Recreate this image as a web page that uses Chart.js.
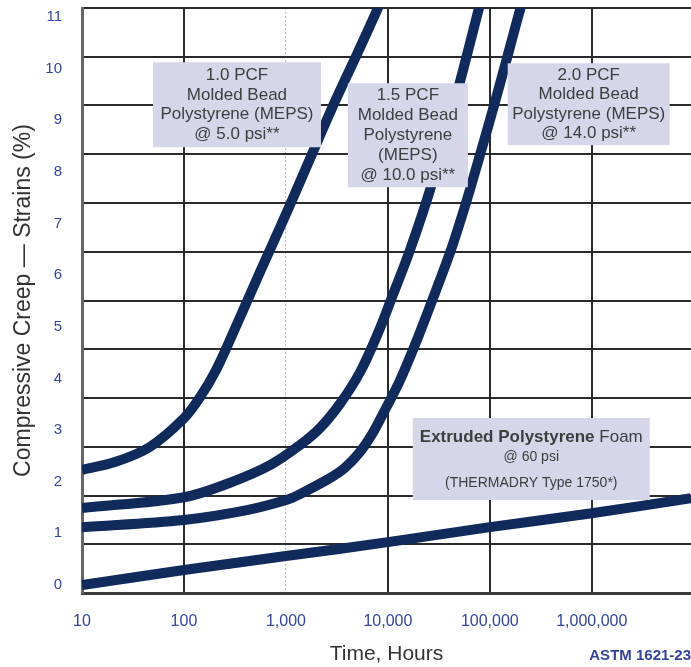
<!DOCTYPE html>
<html><head><meta charset="utf-8">
<script src="https://cdn.jsdelivr.net/npm/chart.js@4/dist/chart.umd.min.js"></script>
<style>html,body{margin:0;padding:0;background:#fff}#c{display:block}</style>
</head><body>
<canvas id="c" width="691" height="667"></canvas>
<script>
// ---- data ----
const tickHours = [10, 100, 1000, 10000, 100000, 1000000];
const tickStrain = [0, 1, 2, 3, 4, 5, 6, 7, 8, 9, 10, 11];

const hours10 = [10, 21, 46, 100, 144, 206, 303, 557, 1097, 2900, 5090, 7820, 8950];
const strain10 = [2.23, 2.38, 2.67, 3.23, 3.64, 4.16, 4.88, 6.06, 7.36, 9.28, 10.32, 11.13, 11.41];

const hours15 = [10, 100, 283, 698, 1374, 2160, 3390, 5330, 8000, 11200, 16500, 25900, 38000, 54600, 76600, 83800];
const strain15 = [1.49, 1.70, 1.98, 2.32, 2.71, 3.04, 3.51, 4.12, 4.88, 5.62, 6.49, 7.65, 8.81, 9.97, 11.10, 11.39];

const hours20 = [10, 100, 415, 1025, 1374, 2700, 3790, 5330, 6990, 9370, 13200, 21100, 29700, 41600, 58400, 80100, 107000, 144000, 189000, 207000];
const strain20 = [1.12, 1.26, 1.45, 1.65, 1.76, 2.07, 2.27, 2.58, 2.92, 3.39, 3.97, 4.94, 5.71, 6.49, 7.40, 8.33, 9.20, 10.13, 11.00, 11.27];

const hoursXps = [10, 100, 1000, 10000, 100000, 1000000, 9400000];
const strainXps = [0, 0.29, 0.56, 0.83, 1.12, 1.39, 1.68];

const note10 = ['1.0 PCF', 'Molded Bead', 'Polystyrene (MEPS)', '@ 5.0 psi**'];
const note15 = ['1.5 PCF', 'Molded Bead', 'Polystyrene', '(MEPS)', '@ 10.0 psi**'];
const note20 = ['2.0 PCF', 'Molded Bead', 'Polystyrene (MEPS)', '@ 14.0 psi**'];
const noteXpsBold = 'Extruded Polystyrene ';
const noteXpsRest = ['Foam', '@ 60 psi', '(THERMADRY Type 1750*)'];

const xTitle = 'Time, Hours';
const yTitle = 'Compressive Creep — Strains (%)';
const sourceNote = 'ASTM 1621-23';

// ---- styles ----
const FONT = "'Liberation Sans', Arial, sans-serif";
const NAVY = '#102a5c';
const BLUE = '#34449a';
const GRID = '#2a2a2a';

const pts = (xs, ys) => xs.map((v, i) => ({x: v, y: ys[i]}));
const lineDs = (label, xs, ys) => ({
  label, data: pts(xs, ys), borderColor: NAVY, backgroundColor: NAVY,
  borderWidth: 10, pointRadius: 0, fill: false, tension: 0.35, clip: 0
});

const notes = [
  {x: 331, y: 9.30, w: 168, h: 85, step: 19.5, lines: note10},
  {x: 15700, y: 8.71, w: 120, h: 104, step: 20, lines: note15},
  {x: 933000, y: 9.31, w: 162, h: 82, step: 19.5, lines: note20},
];

const notesPlugin = {
  id: 'notes',
  afterDatasetsDraw(chart) {
    const {ctx, scales: {x, y}} = chart;
    ctx.save();
    ctx.textAlign = 'center';
    ctx.textBaseline = 'middle';
    for (const n of notes) {
      const cx = x.getPixelForValue(n.x), cy = y.getPixelForValue(n.y);
      ctx.fillStyle = '#d6d6ea';
      ctx.fillRect(cx - n.w / 2, cy - n.h / 2, n.w, n.h);
      ctx.fillStyle = '#3d3d3d';
      ctx.font = '17px ' + FONT;
      const k = n.lines.length;
      n.lines.forEach((t, i) => ctx.fillText(t, cx, cy + (i - (k - 1) / 2) * n.step));
    }
    // extruded note
    const cx = x.getPixelForValue(255000), cy = y.getPixelForValue(2.44);
    ctx.fillStyle = '#d6d6ea';
    ctx.fillRect(cx - 118.5, cy - 41, 237, 82);
    ctx.fillStyle = '#3d3d3d';
    ctx.font = 'bold 17px ' + FONT;
    const wb = ctx.measureText(noteXpsBold).width;
    ctx.font = '17px ' + FONT;
    const wr = ctx.measureText(noteXpsRest[0]).width;
    const x0 = cx - (wb + wr) / 2;
    ctx.textAlign = 'left';
    ctx.font = 'bold 17px ' + FONT;
    ctx.fillText(noteXpsBold, x0, cy - 22);
    ctx.font = '17px ' + FONT;
    ctx.fillText(noteXpsRest[0], x0 + wb, cy - 22);
    ctx.textAlign = 'center';
    ctx.font = '14px ' + FONT;
    ctx.fillText(noteXpsRest[1], cx, cy - 2);
    ctx.fillText(noteXpsRest[2], cx, cy + 24);
    ctx.restore();
  },
  afterDraw(chart) {
    const {ctx} = chart;
    ctx.save();
    ctx.font = 'bold 15px ' + FONT;
    ctx.fillStyle = BLUE;
    ctx.textAlign = 'right';
    ctx.textBaseline = 'middle';
    ctx.fillText(sourceNote, 691, 656);
    ctx.restore();
  }
};

const zeroPad = s => { s.paddingTop = 0; s.paddingBottom = 0; s.paddingLeft = 0; s.paddingRight = 0; };

new Chart(document.getElementById('c'), {
  type: 'line',
  data: {
    datasets: [
      lineDs('1.0 PCF MEPS @ 5.0 psi', hours10, strain10),
      lineDs('1.5 PCF MEPS @ 10.0 psi', hours15, strain15),
      lineDs('2.0 PCF MEPS @ 14.0 psi', hours20, strain20),
      lineDs('Extruded Polystyrene Foam @ 60 psi', hoursXps, strainXps),
    ]
  },
  options: {
    responsive: false,
    animation: false,
    layout: {padding: {top: 8, right: 0, left: 0, bottom: 0}},
    plugins: {legend: {display: false}, tooltip: {enabled: false}},
    scales: {
      x: {
        type: 'logarithmic', min: 10, max: 9400000,
        afterBuildTicks: s => { s.ticks = tickHours.map(v => ({value: v})); },
        afterFit: s => { s.height = 74; zeroPad(s); },
        ticks: {
          autoSkip: false, maxRotation: 0, padding: 19, color: BLUE,
          font: {family: FONT, size: 16},
          callback: v => Number(v).toLocaleString('en-US')
        },
        grid: {
          drawTicks: false,
          color: c => (c.tick && c.tick.value === 1000) ? '#bdbdbd' : (c.tick && c.tick.value === 10 ? '#666' : GRID),
          lineWidth: c => (c.tick && c.tick.value === 1000) ? 1 : (c.tick && c.tick.value === 10 ? 3 : 2)
        },
        border: {display: true, color: '#3a3a3a', width: 3,
          dash: c => (c.tick && c.tick.value === 1000) ? [2, 2] : []},
        title: {display: true, text: xTitle, color: '#333', font: {family: FONT, size: 21}, padding: {top: 0, bottom: 0}}
      },
      y: {
        type: 'linear', position: 'left', min: -0.155, max: 11.174,
        afterBuildTicks: s => { s.ticks = tickStrain.map(v => ({value: v})); },
        afterFit: s => { s.width = 82; zeroPad(s); },
        ticks: {padding: 20, color: BLUE, font: {family: FONT, size: 15}, callback: v => String(v)},
        grid: {display: false, drawTicks: false},
        border: {display: true, color: '#666', width: 3},
        title: {display: true, text: yTitle, color: '#333', font: {family: FONT, size: 23}, padding: {top: 10, bottom: 0}}
      },
      yg: {
        type: 'linear', position: 'left', min: 0, max: 12,
        ticks: {display: false, stepSize: 1},
        afterFit: s => { s.width = 0; zeroPad(s); },
        grid: {color: GRID, lineWidth: 2, drawTicks: false},
        border: {display: false}
      }
    }
  },
  plugins: [notesPlugin]
});
</script>
</body></html>
